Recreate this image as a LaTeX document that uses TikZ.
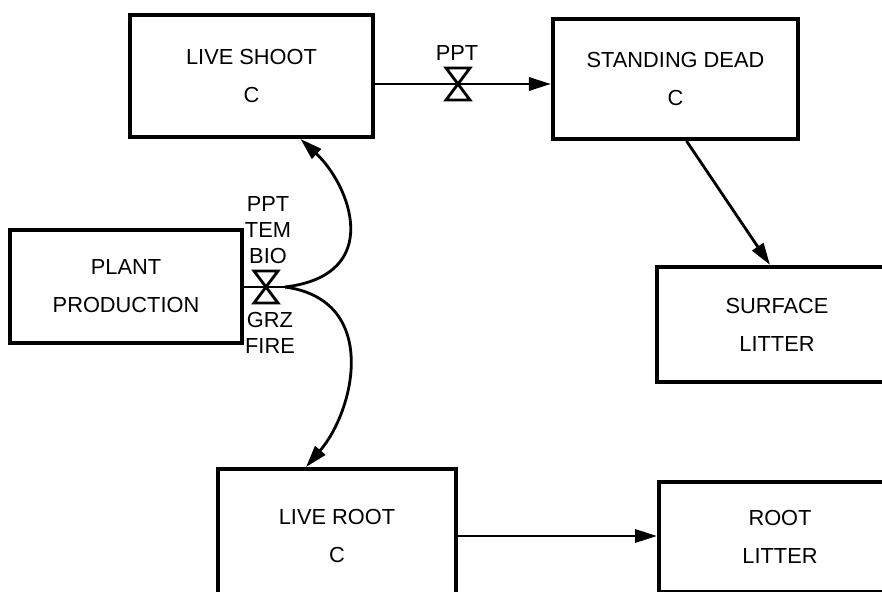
\documentclass[tikz,border=0pt]{standalone}
\usepackage{fontspec}
\setmainfont{Liberation Sans}
\usetikzlibrary{arrows.meta,calc}

% bow-tie valve drawn on a named coordinate
\newcommand{\valve}[1]{%
  \draw[line width=2pt, line join=miter, fill=white, shift={(#1)}]
    (-12,-16) -- (12,-16) -- (-12,16) -- (12,16) -- cycle;}

\begin{document}
\begin{tikzpicture}[x=0.025cm, y=-0.025cm,
  every node/.style={font=\fontsize{15.5}{27}\selectfont},
  pool/.style={draw, rectangle, line width=2.8pt, align=center, inner sep=0pt},
  rate/.style={align=center, font=\fontsize{15.5}{18.5}\selectfont},
  flow/.style={line width=2pt, -{Triangle[length=0.55cm,width=0.33cm]}}]
  \useasboundingbox (0,0) rectangle (882,592);
  \clip (0,0) rectangle (882,592);

  % pools
  \node (ls) [pool, minimum width=6.08cm, minimum height=3.05cm] at (251.5,76)
             {LIVE SHOOT\\C};
  \node (sd) [pool, minimum width=6.13cm, minimum height=3.0cm] at (675.5,79)
             {STANDING DEAD\\C};
  \node (pp) [pool, minimum width=5.78cm, minimum height=2.83cm] at (126,286.5)
             {PLANT\\PRODUCTION};
  \node (sl) [pool, minimum width=6.0cm, minimum height=2.88cm] at (777,324.5)
             {SURFACE\\LITTER};
  \node (lr) [pool, minimum width=5.95cm, minimum height=3.35cm] at (337,536)
             {LIVE ROOT\\C};
  \node (rl) [pool, minimum width=6.05cm, minimum height=2.75cm] at (780,537)
             {ROOT\\LITTER};

  % valves and split point
  \coordinate (pv) at (458,84);
  \coordinate (gv) at (266,287);
  \coordinate (gs) at (285,287);

  % flows
  \draw[flow] (ls.east |- pv) -- (sd.west |- pv);
  \draw[flow] ($(sd.south)+(11,0)$) -- ($(sl.north)+(-7,0)$);
  \draw[line width=2pt] (pp.east |- gv) -- (gs);
  \draw[flow] (gs) .. controls (385,275) and (350,185) .. ($(ls.south)+(49,0)$);
  \draw[flow] (gs) .. controls (380,300) and (355,410) .. ($(lr.north)+(-31,0)$);
  \draw[flow] (lr.east |- 0,536) -- (rl.west |- 0,536);

  \valve{pv}
  \valve{gv}

  % rate labels
  \node (pptlab) [rate] at (457,53) {PPT};
  \node (gin)    [rate] at (268,230) {PPT\\TEM\\BIO};
  \node (gout)   [rate] at (270,333) {GRZ\\FIRE};
\end{tikzpicture}
\end{document}
